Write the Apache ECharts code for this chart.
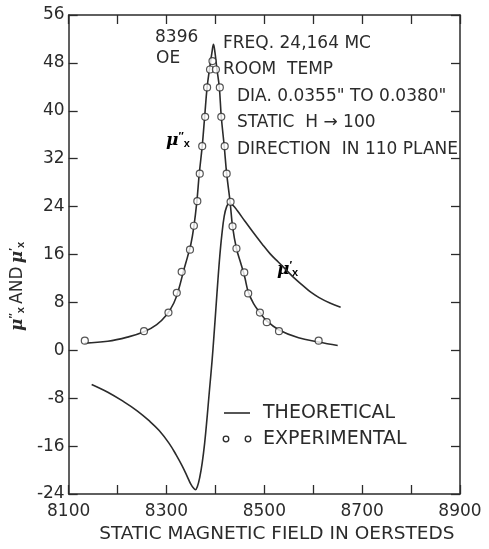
<!DOCTYPE html>
<html>
<head>
<meta charset="utf-8">
<script src="https://cdn.jsdelivr.net/npm/echarts@6/dist/echarts.min.js"></script>
<style>
    html, body { margin: 0; padding: 0; background: #fff; }
    #chart { width: 489px; height: 549px; }
</style>
</head>
<body>
<div id="chart"></div>
<script>
// experimental points (open circles)
const expX = [8133, 8254, 8304, 8321, 8331, 8348, 8356, 8363, 8368, 8373, 8379, 8383, 8389, 8394,
    8401, 8409, 8412, 8419, 8423, 8431, 8435, 8443, 8459, 8467, 8491, 8505, 8530, 8611];
const expY = [1.6, 3.2, 6.3, 9.6, 13.1, 16.8, 20.8, 24.9, 29.5, 34.1, 39.0, 43.9, 46.9, 48.3,
    46.9, 43.9, 39.0, 34.1, 29.5, 24.8, 20.7, 17.0, 13.0, 9.5, 6.3, 4.7, 3.2, 1.6];

// theoretical mu'' (absorption)
const absX = [8133, 8180, 8220, 8254, 8280, 8300, 8315, 8325, 8335, 8343, 8350, 8356, 8362, 8367,
    8373, 8378, 8383, 8388, 8393, 8396, 8399, 8403, 8408, 8412, 8418, 8423, 8430, 8435, 8443,
    8452, 8460, 8467, 8478, 8491, 8505, 8530, 8570, 8611, 8650];
const absY = [1.2, 1.5, 2.2, 3.1, 4.3, 5.9, 7.9, 10.2, 13.3, 15.6, 17.8, 20.7, 24.8, 29.5,
    34.1, 39.0, 43.9, 47.0, 49.8, 51.1, 49.8, 47.0, 43.9, 39.0, 34.1, 29.5, 24.8, 20.7, 17.0,
    14.5, 12.2, 9.8, 7.8, 6.3, 4.9, 3.4, 2.1, 1.4, 0.8];

// theoretical mu' (dispersion)
const dispX = [8147, 8180, 8211, 8240, 8265, 8285, 8305, 8320, 8332, 8342, 8350, 8356, 8359, 8363,
    8368, 8373, 8378, 8383, 8388, 8393, 8397, 8401, 8405, 8409, 8413, 8418, 8423, 8428, 8436,
    8445, 8460, 8479, 8495, 8512, 8529, 8545, 8562, 8579, 8595, 8612, 8634, 8656];
const dispY = [-5.7, -7.0, -8.5, -10.1, -11.8, -13.4, -15.5, -17.5, -19.3, -21.0, -22.4, -23.1, -23.3, -22.8,
    -21.2, -18.8, -15.5, -11.2, -6.5, -1.9, 2.4, 7.0, 11.6, 15.8, 19.2, 22.4, 24.0, 24.5, 24.2,
    23.3, 21.6, 19.5, 17.8, 16.1, 14.7, 13.4, 12.0, 10.8, 9.7, 8.8, 7.9, 7.2];

const notes = ['FREQ. 24,164 MC', 'ROOM  TEMP', 'DIA. 0.0355" TO 0.0380"', 'STATIC  H \u2192 100', 'DIRECTION  IN 110 PLANE'];

const ink = '#2b2b2b';
const font = '"DejaVu Sans", sans-serif';

function pairs(xs, ys) {
    return xs.map((x, i) => [x, ys[i]]);
}

const axisBase = {
    type: 'value',
    axisLine: { show: true, onZero: false, lineStyle: { color: ink, width: 1.5 } },
    axisTick: { show: true, inside: true, length: 9, lineStyle: { color: ink, width: 1.3 } },
    splitLine: { show: false },
};

const noteLines = notes.map((t, i) => ({
    type: 'text',
    style: {
        text: t, x: i < 2 ? 223 : 237, y: 43.5 + i * 26.4,
        font: '17px ' + font, fill: ink, verticalAlign: 'middle',
    },
}));

const muRich = {
    mu: { fontSize: 17, fontStyle: 'italic', fontWeight: 'bold', fontFamily: 'DejaVu Serif', color: ink },
    sup: { fontSize: 11, fontWeight: 'bold', color: ink, padding: [0, 0, 8, 0] },
    sub: { fontSize: 11, fontWeight: 'bold', color: ink, padding: [6, 0, 0, 0] },
    t: { fontSize: 17, fontFamily: font, color: ink },
};

const option = {
    animation: false,
    backgroundColor: '#fff',
    grid: { left: 61, right: 29, top: 15, bottom: 48 },
    xAxis: [
        Object.assign({}, axisBase, {
            min: 8100, max: 8900, interval: 100,
            axisLabel: {
                color: ink, fontSize: 17, fontFamily: font, margin: 9,
                formatter: v => ((v - 8100) % 200 === 0 ? String(v) : ''),
            },
            name: 'STATIC MAGNETIC FIELD IN OERSTEDS',
            nameLocation: 'middle', nameGap: 31,
            nameTextStyle: { color: ink, fontSize: 18.5, fontFamily: font, padding: [0, 0, 0, 25] },
        }),
        Object.assign({}, axisBase, {
            position: 'top', min: 8100, max: 8900, interval: 100,
            axisLabel: { show: false },
        }),
    ],
    yAxis: [
        Object.assign({}, axisBase, {
            min: -24, max: 56, interval: 8,
            axisLabel: { color: ink, fontSize: 17, fontFamily: font, margin: 4 },
            name: '{mu|\u03bc}{sup|\u2033}{sub|x} {t|AND} {mu|\u03bc}{sup|\u2032}{sub|x}',
            nameLocation: 'middle', nameGap: 26,
            nameTextStyle: { rich: muRich, padding: [0, 64, 0, 0] },
        }),
        Object.assign({}, axisBase, {
            position: 'right', min: -24, max: 56, interval: 8,
            axisLabel: { show: false },
        }),
    ],
    series: [
        {
            type: 'line', name: 'THEORETICAL', data: pairs(absX, absY),
            symbol: 'none', smooth: 0.4, lineStyle: { color: ink, width: 1.6 },
        },
        {
            type: 'line', name: 'THEORETICAL', data: pairs(dispX, dispY),
            symbol: 'none', smooth: 0.4, lineStyle: { color: ink, width: 1.6 },
        },
        {
            type: 'scatter', name: 'EXPERIMENTAL', data: pairs(expX, expY), z: 5,
            symbol: 'circle', symbolSize: 7,
            itemStyle: { color: '#fff', borderColor: ink, borderWidth: 1.2 },
        },
    ],
    graphic: [
        { type: 'text', style: { text: '8396', x: 155, y: 37.5, font: '17px ' + font, fill: ink, verticalAlign: 'middle' } },
        { type: 'text', style: { text: 'OE', x: 156, y: 59, font: '17px ' + font, fill: ink, verticalAlign: 'middle' } },
        ...noteLines,
        { type: 'text', style: { text: '{mu|\u03bc}{sup|\u2033}{sub|x}', x: 166, y: 141, verticalAlign: 'middle', rich: muRich } },
        { type: 'text', style: { text: '{mu|\u03bc}{sup|\u2032}{sub|x}', x: 277, y: 270, verticalAlign: 'middle', rich: muRich } },
        // legend
        { type: 'line', shape: { x1: 224, y1: 413, x2: 250, y2: 413 }, style: { stroke: ink, lineWidth: 1.6 } },
        { type: 'text', style: { text: 'THEORETICAL', x: 263, y: 413, font: '19px ' + font, fill: ink, verticalAlign: 'middle' } },
        { type: 'circle', shape: { cx: 226, cy: 439, r: 2.8 }, style: { fill: '#fff', stroke: ink, lineWidth: 1.3 } },
        { type: 'circle', shape: { cx: 248, cy: 439, r: 2.8 }, style: { fill: '#fff', stroke: ink, lineWidth: 1.3 } },
        { type: 'text', style: { text: 'EXPERIMENTAL', x: 263, y: 439, font: '19px ' + font, fill: ink, verticalAlign: 'middle' } },
    ],
};

const chart = echarts.init(document.getElementById('chart'));
chart.setOption(option);
</script>
</body>
</html>
